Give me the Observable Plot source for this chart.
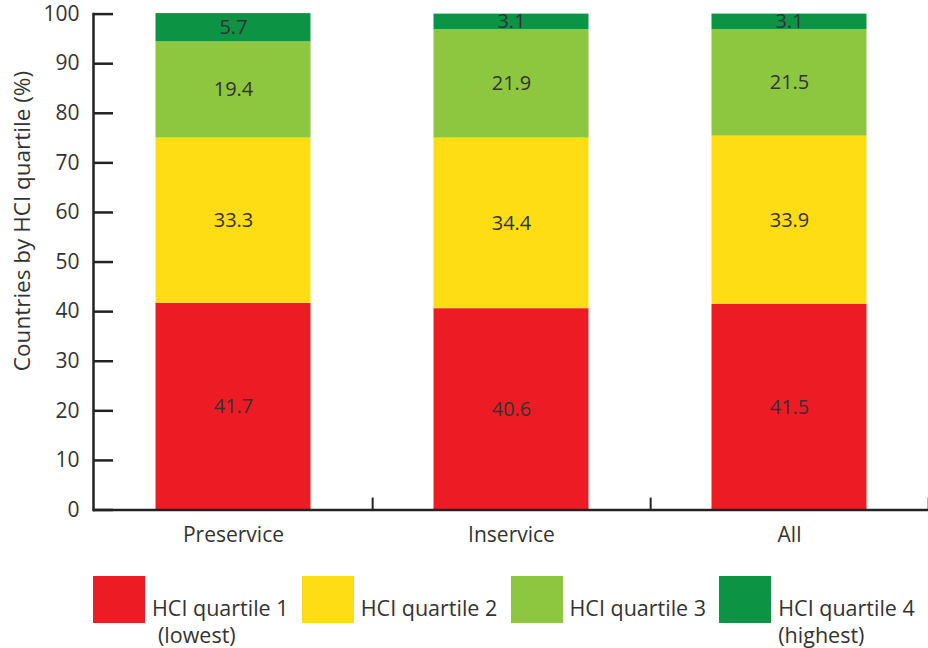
<!DOCTYPE html>
<html>
<head>
<meta charset="utf-8">
<script src="https://cdn.jsdelivr.net/npm/d3@7"></script>
<script src="https://cdn.jsdelivr.net/npm/@observablehq/plot@0.6"></script>
<style>
  body { margin: 0; background: #fff; font-family: "Open Sans", sans-serif; }
  #legend { display: flex; padding-left: 93px; margin-top: 16px; color: #333; }
  .item { width: 209.7px; display: flex; align-items: flex-start; }
  .sw { width: 52px; height: 47px; flex: none; margin-right: 7px; }
  .lab { font-size: 21.5px; line-height: 27px; padding-top: 18px; white-space: nowrap; }
  .sub { padding-left: 6px; }
</style>
</head>
<body>
<div id="chart"></div>
<div id="legend"></div>
<script>
const categories = ["Preservice", "Inservice", "All"];
const quartiles = ["HCI quartile 1", "HCI quartile 2", "HCI quartile 3", "HCI quartile 4"];
const legendLines = ["(lowest)", "", "", "(highest)"];
const colors = ["#ED1C24", "#FFDD15", "#8DC63F", "#0C9444"];
const q1 = [41.7, 40.6, 41.5];
const q2 = [33.3, 34.4, 33.9];
const q3 = [19.4, 21.9, 21.5];
const q4 = [5.7, 3.1, 3.1];
const yTicks = [0, 10, 20, 30, 40, 50, 60, 70, 80, 90, 100];
const yLabel = "Countries by HCI quartile (%)";

const series = [q1, q2, q3, q4];
const data = [];
categories.forEach((c, i) => {
  series.forEach((s, k) => data.push({category: c, quartile: quartiles[k], value: s[i]}));
});

const W = 928, H = 560, ML = 93, MR = 0;
const step = (W - ML - MR) / categories.length;

const chart = Plot.plot({
  width: W,
  height: H,
  marginLeft: ML,
  marginRight: MR,
  marginTop: 13.6,
  marginBottom: 50.5,
  style: {fontFamily: "Open Sans, sans-serif", fontSize: "20px", color: "#333", background: "transparent"},
  x: {domain: categories, padding: 0, label: null},
  y: {domain: [0, 100], label: null},
  color: {domain: quartiles, range: colors},
  marks: [
    Plot.barY(data, {x: "category", y: "value", fill: "quartile", order: quartiles, insetLeft: 61.5, insetRight: 61.5}),
    Plot.text(data, Plot.stackY({x: "category", y: "value", z: "quartile", order: quartiles, text: d => d.value.toFixed(1), fill: "#333", fontSize: 20})),
    Plot.axisY({ticks: yTicks, tickSize: 0, tickPadding: 14, fontSize: 21, fill: "#333", label: null}),
    Plot.text([yLabel], {text: d => d, frameAnchor: "left", rotate: -90, textAnchor: "middle", lineAnchor: "middle", dx: -71, dy: -41, fontSize: 22.5, fill: "#333"}),
    Plot.ruleY(yTicks, {y: d => d, frameAnchor: "left", stroke: "#222", strokeWidth: 2.5, insetRight: W - ML - MR - 20}),
    Plot.frame({anchor: "left", stroke: "#222", strokeWidth: 2.5}),
    Plot.ruleY([0], {stroke: "#222", strokeWidth: 2.5}),
    Plot.ruleX(categories, {x: d => d, dx: step / 2, y1: 0, y2: 2.4, stroke: "#222", strokeWidth: 2}),
    Plot.axisX({tickSize: 0, tickPadding: 17, fontSize: 21, fill: "#333", label: null})
  ]
});
document.getElementById("chart").appendChild(chart);

const legend = document.getElementById("legend");
quartiles.forEach((q, k) => {
  const item = document.createElement("div");
  item.className = "item";
  const sw = document.createElement("div");
  sw.className = "sw";
  sw.style.background = colors[k];
  const lab = document.createElement("div");
  lab.className = "lab";
  lab.innerHTML = q + (legendLines[k] ? `<br><span class="${k === 0 ? "sub" : ""}">${legendLines[k]}</span>` : "");
  item.appendChild(sw);
  item.appendChild(lab);
  legend.appendChild(item);
});
</script>
</body>
</html>
